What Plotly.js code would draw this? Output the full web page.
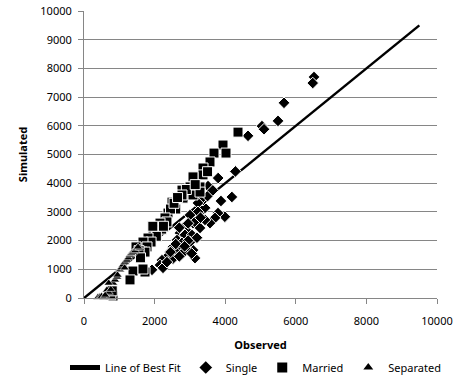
<!DOCTYPE html>
<html>
<head>
<meta charset="utf-8">
<script src="https://cdn.plot.ly/plotly-3.0.1.min.js"></script>
<style>html,body{margin:0;padding:0;background:#fff;}#chart{width:458px;height:389px;}</style>
</head>
<body>
<div id="chart"></div>
<script>
const fitX = [0, 9500];
const fitY = [0, 9500];

const singleX = [6516,6480,5666,5496,5042,5100,4646,4290,4190,3880,3990,3800,3513,3796,3711,3569,3428,3343,3428,3371,3343,3229,3229,3088,3144,3003,3144,3088,3144,3286,2805,2918,2720,2860,3060,2635,2776,3003,2521,2720,2918,2436,2620,2351,2210,2521,2805,2153,2238,1926,2350,2700,2950,3300,3500,3650,2450,2600,2850,3050,3200,2950,2700];
const singleY = [7700,7490,6800,6170,5990,5880,5650,4410,3520,3380,2830,4180,3900,2960,2790,2610,2720,3070,3140,3410,3480,3310,3000,2610,2650,2890,2125,1670,1390,2440,2440,2330,2265,2200,2195,2020,1920,1950,1780,1750,1670,1600,1570,1430,1320,1370,1570,1150,1050,980,1250,1450,2000,2800,3550,3750,1600,1880,1800,1550,2100,2600,2450];

const marriedX = [4363,3938,4023,3683,3569,3371,3371,3088,3003,3286,2776,2805,3088,3286,2900,2776,2493,2600,2380,2450,2295,2350,2153,2096,2200,1955,2050,1813,1900,1671,1785,1643,1728,1473,1560,1388,1303,1728,1671,822,760,800,2550,2250,3150,2650,3500,1950,1600];
const marriedY = [5780,5330,5050,5050,4740,4530,4290,4220,3870,3870,3760,3480,3590,3690,3780,3590,3340,3100,2960,3100,2790,2650,2610,2440,2400,2270,2150,2090,1950,1950,1780,1600,1600,1780,1650,940,630,905,1010,70,110,250,3300,2500,3950,3500,4400,2500,1400];

const separatedX = [397,450,500,560,651,700,760,822,878,935,1020,1060,1105,1160,1218,1260,1303,1350,1388,1450,1501,1586,1530,600,700,950,1150];
const separatedY = [30,40,60,20,280,200,300,520,630,730,980,1050,1150,1250,1320,1400,1500,1550,1600,1650,1740,1740,1780,100,520,800,1050];

const FONT = 'Noto Sans, Open Sans, sans-serif';
const outline = {color: '#ffffff', width: 1};

const traces = [
  {x: fitX, y: fitY, mode: 'lines', name: 'Line of Best Fit', line: {color: '#000', width: 2.5}, hoverinfo: 'skip'},
  {x: singleX, y: singleY, mode: 'markers', name: 'Single', cliponaxis: false,
   marker: {symbol: 'diamond', size: 9, color: '#000', line: outline}},
  {x: marriedX, y: marriedY, mode: 'markers', name: 'Married', cliponaxis: false,
   marker: {symbol: 'square', size: 10, color: '#000', line: outline}},
  {x: separatedX, y: separatedY, mode: 'markers', name: 'Separated', cliponaxis: false,
   marker: {symbol: 'triangle-up', size: 8, color: '#000', line: {color: '#ffffff', width: 0.6}}}
];

// paper area x 10..448 px; plot area x 84..437 px, y 11..298 px
const layout = {
  width: 458, height: 389,
  margin: {l: 10, r: 10, t: 11, b: 91},
  paper_bgcolor: '#fff', plot_bgcolor: '#fff',
  font: {family: FONT, size: 11, color: '#000'},
  showlegend: true,
  legend: {orientation: 'h', xref: 'paper', yref: 'container',
           x: 55/438, xanchor: 'left', y: 36/389, yanchor: 'top',
           font: {family: FONT, size: 11, color: '#000'}, itemwidth: 30,
           itemsizing: 'constant', traceorder: 'normal'},
  xaxis: {
    domain: [74/438, 427/438], automargin: false,
    range: [0, 10000], dtick: 2000, tick0: 0, tickformat: 'd', showgrid: false, zeroline: false,
    showline: true, linecolor: '#868686', linewidth: 1,
    ticks: 'outside', ticklen: 5, tickcolor: '#868686', ticklabelstandoff: 8,
    tickfont: {family: FONT, size: 11, color: '#000'},
    title: {text: '<b>Observed</b>', font: {family: FONT, size: 11, color: '#000'}, standoff: 14}
  },
  yaxis: {
    automargin: false,
    range: [0, 10000], dtick: 1000, tick0: 0, tickformat: 'd', showgrid: true, gridcolor: '#868686', gridwidth: 1,
    zeroline: false, showline: true, linecolor: '#868686', linewidth: 1,
    ticks: 'outside', ticklen: 5, tickcolor: '#868686', ticklabelstandoff: 4,
    tickfont: {family: FONT, size: 11, color: '#000'},
    title: {text: '<b>Simulated</b>', font: {family: FONT, size: 11, color: '#000'}, standoff: 10}
  }
};

Plotly.newPlot('chart', traces, layout, {displayModeBar: false, staticPlot: true});
</script>
</body>
</html>
